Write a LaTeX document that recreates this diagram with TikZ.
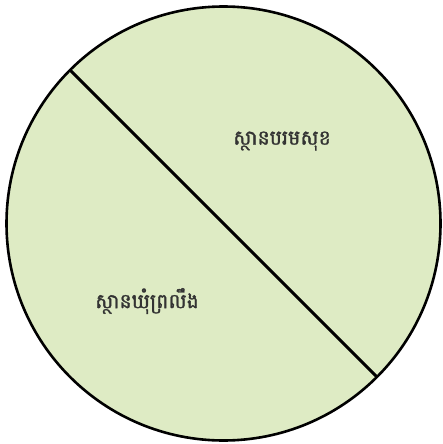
\documentclass[tikz,border=0pt]{standalone}
\usepackage{fontspec}
\newfontfamily\khmerfont[Script=Khmer,FakeBold=1.5]{Battambang}
\definecolor{disk}{HTML}{DEEBC4}
\tikzset{
  disc/.style={circle, draw=black, line width=2.6pt, fill=disk, minimum size=434pt, inner sep=0pt, outer sep=0pt},
  divider/.style={draw=black, line width=3pt},
  label/.style={font=\khmerfont\fontsize{20.5pt}{24pt}\selectfont, text=black!80, inner sep=0pt}
}
\begin{document}
\begin{tikzpicture}[x=1pt,y=-1pt]
\useasboundingbox (0,0) rectangle (442,444);
\node[disc] (c) at (223.5,223.5) {};
\draw[divider] (c.135) -- (c.-45);
\node[label] (top) at (282,141) {ស្ថានបរមសុខ};
\node[label] (bot) at (147,301) {ស្ថានឃុំព្រលឹង};
\end{tikzpicture}
\end{document}
